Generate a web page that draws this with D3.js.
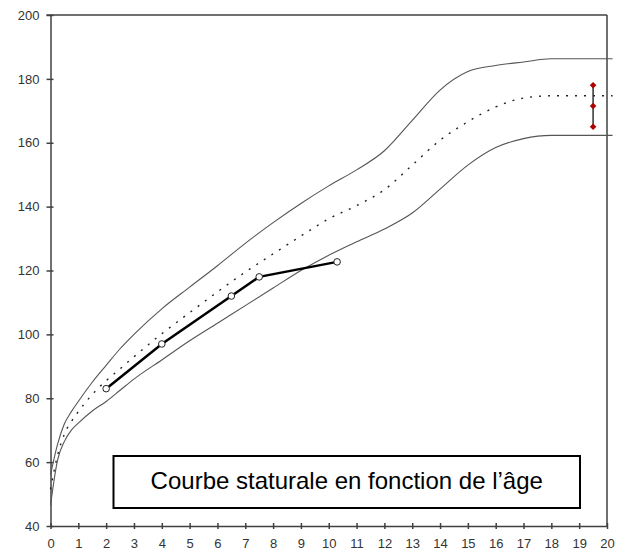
<!DOCTYPE html>
<html>
<head>
<meta charset="utf-8">
<script src="https://cdn.jsdelivr.net/npm/d3@7"></script>
<style>
  html, body { margin: 0; padding: 0; background: #fff; }
  svg { display: block; }
</style>
</head>
<body>
<svg id="chart" width="625" height="550"></svg>
<script>
// Reference ages (years) shared by the three reference curves
const ages = [0, 0.25, 0.5, 0.75, 1, 1.5, 2, 2.5, 3, 4, 5, 6, 7, 8, 9, 10, 11, 12, 13, 14, 15, 16, 17, 18, 20.2];
// +2 SD height (cm)
const upper = [56, 65.5, 72, 75.8, 79, 85, 90.3, 95.5, 100, 108, 114.8, 121.5, 128.5, 135, 141, 146.5, 151.5, 157.5, 167, 176.5, 182.3, 184.2, 185.3, 186.3, 186.3];
// Median height (cm)
const median = [51.5, 62, 68.8, 72.7, 75.8, 81.2, 85.5, 89.2, 93, 100.2, 106.8, 113.3, 119.5, 125.2, 130.8, 136.2, 140.3, 145.3, 153, 160.8, 166.6, 171.2, 174, 174.7, 174.7];
// -2 SD height (cm)
const lower = [46.5, 60.5, 66.5, 70, 72.2, 76, 79, 82.5, 86, 92, 98, 103.5, 109, 114.5, 120, 124.8, 129, 133, 138, 145.5, 153, 158.5, 161.3, 162.3, 162.3];

// Measured heights of the child
const childAges = [2, 4, 6.5, 7.5, 10.3];
const childHeights = [83, 97, 112, 118, 122.7];

// Target height and its range
const targetAges = [19.5, 19.5, 19.5];
const targetHeights = [178, 171.5, 165];

const xTicks = d3.range(0, 21, 1);
const yTicks = [40, 60, 80, 100, 120, 140, 160, 180, 200];
const title = "Courbe staturale en fonction de l\u2019\u00e2ge";

const svg = d3.select("#chart");
const x = d3.scaleLinear().domain([0, 20]).range([50.5, 607]);
const y = d3.scaleLinear().domain([40, 200]).range([526, 15]);

const axisColor = "#404040";
const font = "Liberation Sans, Arial, sans-serif";

// Frame: top and right edges
svg.append("line")
  .attr("x1", x(0) - 4).attr("x2", x(20))
  .attr("y1", y(200)).attr("y2", y(200))
  .attr("stroke", axisColor).attr("stroke-width", 1.5);
svg.append("line")
  .attr("x1", x(20)).attr("x2", x(20))
  .attr("y1", y(200)).attr("y2", y(40))
  .attr("stroke", axisColor).attr("stroke-width", 1.5);

// Y axis
const gy = svg.append("g")
  .attr("transform", `translate(${x(0)},0)`)
  .call(d3.axisLeft(y).tickValues(yTicks).tickSizeOuter(0).tickSizeInner(4).tickPadding(7));
gy.select(".domain").attr("stroke", axisColor).attr("stroke-width", 1.5);
gy.selectAll(".tick line").attr("x1", 3).attr("x2", -4).attr("stroke", axisColor).attr("stroke-width", 1.5);
gy.selectAll(".tick text").attr("fill", "#333").style("font-family", font).style("font-size", "13px");

// X axis
const gx = svg.append("g")
  .attr("transform", `translate(0,${y(40)})`)
  .call(d3.axisBottom(x).tickValues(xTicks).tickFormat(d3.format("d")).tickSizeOuter(0).tickSizeInner(3).tickPadding(10));
gx.select(".domain").attr("stroke", axisColor).attr("stroke-width", 1.5);
gx.selectAll(".tick line").attr("y1", -3).attr("y2", 3).attr("stroke", axisColor).attr("stroke-width", 1.5);
gx.selectAll(".tick text").attr("fill", "#333").style("font-family", font).style("font-size", "13px");

// Reference curves
const line = d3.line()
  .x(d => x(d[0]))
  .y(d => y(d[1]))
  .curve(d3.curveMonotoneX);

const zip = (a, b) => a.map((v, i) => [v, b[i]]);

svg.append("path")
  .datum(zip(ages, upper))
  .attr("d", line)
  .attr("fill", "none").attr("stroke", "#555").attr("stroke-width", 1.1);
svg.append("path")
  .datum(zip(ages, lower))
  .attr("d", line)
  .attr("fill", "none").attr("stroke", "#555").attr("stroke-width", 1.1);
svg.append("path")
  .datum(zip(ages, median))
  .attr("d", line)
  .attr("fill", "none").attr("stroke", "#222").attr("stroke-width", 1.4)
  .attr("stroke-dasharray", "2,7");

// Title box
const box = svg.append("g");
box.append("rect")
  .attr("x", 113.5).attr("y", 456).attr("width", 466.5).attr("height", 52)
  .attr("fill", "#fff").attr("stroke", "#000").attr("stroke-width", 2);
box.append("text")
  .attr("x", 113.5 + 466.5 / 2).attr("y", 489)
  .attr("text-anchor", "middle")
  .style("font-family", font).style("font-size", "24px")
  .attr("fill", "#000")
  .text(title);

// Child's growth line with open markers
const childData = zip(childAges, childHeights);
svg.append("path")
  .datum(childData)
  .attr("d", d3.line().x(d => x(d[0])).y(d => y(d[1])))
  .attr("fill", "none").attr("stroke", "#000").attr("stroke-width", 2.5);
svg.selectAll(".child")
  .data(childData)
  .join("circle")
  .attr("class", "child")
  .attr("cx", d => x(d[0])).attr("cy", d => y(d[1]))
  .attr("r", 3.3)
  .attr("fill", "#fff").attr("stroke", "#222").attr("stroke-width", 1);

// Target height range
const targetData = zip(targetAges, targetHeights);
svg.append("line")
  .attr("x1", x(targetAges[0])).attr("x2", x(targetAges[0]))
  .attr("y1", y(d3.max(targetHeights))).attr("y2", y(d3.min(targetHeights)))
  .attr("stroke", "#333").attr("stroke-width", 1.5);
svg.selectAll(".target")
  .data(targetData)
  .join("path")
  .attr("class", "target")
  .attr("transform", d => `translate(${x(d[0])},${y(d[1])})`)
  .attr("d", d3.symbol().type(d3.symbolDiamond2).size(28))
  .attr("fill", "#b00000");
</script>
</body>
</html>
